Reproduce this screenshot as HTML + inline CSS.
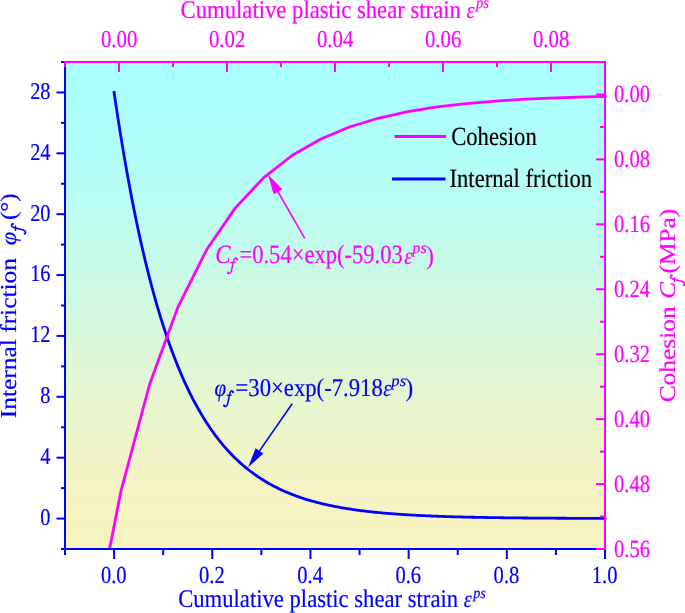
<!DOCTYPE html>
<html><head><meta charset="utf-8"><style>
html,body{margin:0;padding:0;background:#fff;overflow:hidden;}
svg{display:block;will-change:transform;}
text{font-family:"Liberation Serif", serif;stroke-width:0.2px;text-rendering:geometricPrecision;}
</style></head><body>
<svg width="685" height="613" viewBox="0 0 685 613">
<defs>
<linearGradient id="g" x1="0" y1="0" x2="0" y2="1">
<stop offset="0.000" stop-color="rgb(170,255,255)"/><stop offset="0.050" stop-color="rgb(171,255,255)"/><stop offset="0.100" stop-color="rgb(172,255,253)"/><stop offset="0.150" stop-color="rgb(175,254,251)"/><stop offset="0.200" stop-color="rgb(178,254,249)"/><stop offset="0.250" stop-color="rgb(182,253,245)"/><stop offset="0.300" stop-color="rgb(187,252,242)"/><stop offset="0.350" stop-color="rgb(192,252,238)"/><stop offset="0.400" stop-color="rgb(197,251,233)"/><stop offset="0.450" stop-color="rgb(203,250,229)"/><stop offset="0.500" stop-color="rgb(209,249,224)"/><stop offset="0.550" stop-color="rgb(215,248,219)"/><stop offset="0.600" stop-color="rgb(221,247,215)"/><stop offset="0.650" stop-color="rgb(226,246,210)"/><stop offset="0.700" stop-color="rgb(231,246,206)"/><stop offset="0.750" stop-color="rgb(236,245,203)"/><stop offset="0.800" stop-color="rgb(240,244,199)"/><stop offset="0.850" stop-color="rgb(243,244,197)"/><stop offset="0.900" stop-color="rgb(246,243,195)"/><stop offset="0.950" stop-color="rgb(247,243,193)"/><stop offset="1.000" stop-color="rgb(248,243,193)"/>
</linearGradient>
<clipPath id="c"><rect x="65" y="22" width="542" height="527"/></clipPath>
<clipPath id="c2"><rect x="65" y="62" width="542" height="488"/></clipPath>
</defs>
<rect x="65" y="62" width="540" height="487" fill="url(#g)"/>
<polyline clip-path="url(#c)" points="114.09,92.44 115.73,103.57 117.37,114.42 119.02,124.98 120.66,135.27 122.30,145.28 123.94,155.04 125.58,164.54 127.23,173.79 128.87,182.80 130.51,191.58 132.15,200.12 133.79,208.44 135.43,216.55 137.08,224.44 138.72,232.13 140.36,239.61 142.00,246.90 143.64,254.00 145.29,260.92 146.93,267.65 148.57,274.21 150.21,280.59 151.85,286.81 153.49,292.87 155.14,298.77 156.78,304.51 158.42,310.11 160.06,315.55 161.70,320.86 163.35,326.03 164.99,331.06 166.63,335.96 168.27,340.73 169.91,345.38 171.56,349.90 173.20,354.31 174.84,358.60 176.48,362.78 178.12,366.86 179.76,370.82 181.41,374.68 183.05,378.44 184.69,382.10 186.33,385.67 187.97,389.14 189.62,392.53 191.26,395.82 192.90,399.03 194.54,402.15 196.18,405.19 197.82,408.16 199.47,411.04 201.11,413.85 202.75,416.59 204.39,419.25 206.03,421.85 207.68,424.38 209.32,426.84 210.96,429.23 212.60,431.57 214.24,433.84 215.88,436.06 217.53,438.21 219.17,440.31 220.81,442.36 222.45,444.35 224.09,446.29 225.74,448.18 227.38,450.02 229.02,451.81 230.66,453.55 232.30,455.25 233.94,456.91 235.59,458.52 237.23,460.09 238.87,461.61 240.51,463.10 242.15,464.55 243.80,465.96 245.44,467.34 247.08,468.68 248.72,469.98 250.36,471.25 252.01,472.49 253.65,473.69 255.29,474.86 256.93,476.01 258.57,477.12 260.21,478.20 261.86,479.26 263.50,480.28 265.14,481.28 266.78,482.26 268.42,483.21 270.07,484.13 271.71,485.03 273.35,485.91 274.99,486.76 276.63,487.59 278.27,488.40 279.92,489.19 281.56,489.96 283.20,490.70 284.84,491.43 286.48,492.14 288.13,492.83 289.77,493.50 291.41,494.16 293.05,494.80 294.69,495.42 296.33,496.02 297.98,496.61 299.62,497.19 301.26,497.74 302.90,498.29 304.54,498.82 306.19,499.33 307.83,499.84 309.47,500.33 311.11,500.80 312.75,501.27 314.39,501.72 316.04,502.16 317.68,502.59 319.32,503.01 320.96,503.41 322.60,503.81 324.25,504.19 325.89,504.57 327.53,504.93 329.17,505.29 330.81,505.64 332.46,505.98 334.10,506.30 335.74,506.62 337.38,506.94 339.02,507.24 340.66,507.54 342.31,507.82 343.95,508.11 345.59,508.38 347.23,508.64 348.87,508.90 350.52,509.16 352.16,509.40 353.80,509.64 355.44,509.87 357.08,510.10 358.72,510.32 360.37,510.54 362.01,510.75 363.65,510.95 365.29,511.15 366.93,511.34 368.58,511.53 370.22,511.72 371.86,511.90 373.50,512.07 375.14,512.24 376.78,512.40 378.43,512.57 380.07,512.72 381.71,512.88 383.35,513.02 384.99,513.17 386.64,513.31 388.28,513.45 389.92,513.58 391.56,513.71 393.20,513.84 394.84,513.96 396.49,514.08 398.13,514.20 399.77,514.31 401.41,514.42 403.05,514.53 404.70,514.64 406.34,514.74 407.98,514.84 409.62,514.94 411.26,515.03 412.91,515.12 414.55,515.21 416.19,515.30 417.83,515.39 419.47,515.47 421.11,515.55 422.76,515.63 424.40,515.71 426.04,515.78 427.68,515.85 429.32,515.92 430.97,515.99 432.61,516.06 434.25,516.13 435.89,516.19 437.53,516.25 439.17,516.31 440.82,516.37 442.46,516.43 444.10,516.48 445.74,516.54 447.38,516.59 449.03,516.64 450.67,516.69 452.31,516.74 453.95,516.79 455.59,516.84 457.23,516.88 458.88,516.92 460.52,516.97 462.16,517.01 463.80,517.05 465.44,517.09 467.09,517.13 468.73,517.16 470.37,517.20 472.01,517.24 473.65,517.27 475.29,517.31 476.94,517.34 478.58,517.37 480.22,517.40 481.86,517.43 483.50,517.46 485.15,517.49 486.79,517.52 488.43,517.55 490.07,517.57 491.71,517.60 493.36,517.62 495.00,517.65 496.64,517.67 498.28,517.69 499.92,517.72 501.56,517.74 503.21,517.76 504.85,517.78 506.49,517.80 508.13,517.82 509.77,517.84 511.42,517.86 513.06,517.88 514.70,517.90 516.34,517.91 517.98,517.93 519.62,517.95 521.27,517.96 522.91,517.98 524.55,517.99 526.19,518.01 527.83,518.02 529.48,518.04 531.12,518.05 532.76,518.06 534.40,518.08 536.04,518.09 537.68,518.10 539.33,518.11 540.97,518.13 542.61,518.14 544.25,518.15 545.89,518.16 547.54,518.17 549.18,518.18 550.82,518.19 552.46,518.20 554.10,518.21 555.74,518.22 557.39,518.23 559.03,518.24 560.67,518.25 562.31,518.25 563.95,518.26 565.60,518.27 567.24,518.28 568.88,518.28 570.52,518.29 572.16,518.30 573.81,518.31 575.45,518.31 577.09,518.32 578.73,518.33 580.37,518.33 582.01,518.34 583.66,518.34 585.30,518.35 586.94,518.35 588.58,518.36 590.22,518.37 591.87,518.37 593.51,518.38 595.15,518.38 596.79,518.39 598.43,518.39 600.07,518.39 601.72,518.40 603.36,518.40 605.00,518.41" fill="none" stroke="#0000FF" stroke-width="2.8" stroke-linejoin="round" stroke-linecap="square"/>
<polyline clip-path="url(#c2)" points="92.33,637.00 120.90,491.33 149.47,384.76 178.04,306.82 206.61,249.80 235.18,208.09 263.75,177.59 292.32,155.27 320.89,138.95 349.46,127.01 378.03,118.27 406.60,111.88 435.17,107.21 463.74,103.79 492.31,101.29 520.88,99.46 549.45,98.12 578.02,97.15 606.59,96.43" fill="none" stroke="#FF00FF" stroke-width="2.8" stroke-linejoin="round"/>
<line x1="65" y1="62" x2="65" y2="550" stroke="#0000FF" stroke-width="2"/>
<line x1="64" y1="549" x2="605" y2="549" stroke="#0000FF" stroke-width="2"/>
<line x1="61" y1="549.00" x2="65" y2="549.00" stroke="#0000FF" stroke-width="2"/>
<line x1="56.5" y1="518.56" x2="65" y2="518.56" stroke="#0000FF" stroke-width="2"/>
<line x1="61" y1="488.12" x2="65" y2="488.12" stroke="#0000FF" stroke-width="2"/>
<line x1="56.5" y1="457.69" x2="65" y2="457.69" stroke="#0000FF" stroke-width="2"/>
<line x1="61" y1="427.25" x2="65" y2="427.25" stroke="#0000FF" stroke-width="2"/>
<line x1="56.5" y1="396.81" x2="65" y2="396.81" stroke="#0000FF" stroke-width="2"/>
<line x1="61" y1="366.38" x2="65" y2="366.38" stroke="#0000FF" stroke-width="2"/>
<line x1="56.5" y1="335.94" x2="65" y2="335.94" stroke="#0000FF" stroke-width="2"/>
<line x1="61" y1="305.50" x2="65" y2="305.50" stroke="#0000FF" stroke-width="2"/>
<line x1="56.5" y1="275.06" x2="65" y2="275.06" stroke="#0000FF" stroke-width="2"/>
<line x1="61" y1="244.62" x2="65" y2="244.62" stroke="#0000FF" stroke-width="2"/>
<line x1="56.5" y1="214.19" x2="65" y2="214.19" stroke="#0000FF" stroke-width="2"/>
<line x1="61" y1="183.75" x2="65" y2="183.75" stroke="#0000FF" stroke-width="2"/>
<line x1="56.5" y1="153.31" x2="65" y2="153.31" stroke="#0000FF" stroke-width="2"/>
<line x1="61" y1="122.88" x2="65" y2="122.88" stroke="#0000FF" stroke-width="2"/>
<line x1="56.5" y1="92.44" x2="65" y2="92.44" stroke="#0000FF" stroke-width="2"/>
<line x1="61" y1="62.00" x2="65" y2="62.00" stroke="#0000FF" stroke-width="2"/>
<line x1="65.00" y1="549" x2="65.00" y2="555" stroke="#0000FF" stroke-width="2"/>
<line x1="114.09" y1="549" x2="114.09" y2="559" stroke="#0000FF" stroke-width="2"/>
<line x1="163.18" y1="549" x2="163.18" y2="555" stroke="#0000FF" stroke-width="2"/>
<line x1="212.27" y1="549" x2="212.27" y2="559" stroke="#0000FF" stroke-width="2"/>
<line x1="261.36" y1="549" x2="261.36" y2="555" stroke="#0000FF" stroke-width="2"/>
<line x1="310.45" y1="549" x2="310.45" y2="559" stroke="#0000FF" stroke-width="2"/>
<line x1="359.55" y1="549" x2="359.55" y2="555" stroke="#0000FF" stroke-width="2"/>
<line x1="408.64" y1="549" x2="408.64" y2="559" stroke="#0000FF" stroke-width="2"/>
<line x1="457.73" y1="549" x2="457.73" y2="555" stroke="#0000FF" stroke-width="2"/>
<line x1="506.82" y1="549" x2="506.82" y2="559" stroke="#0000FF" stroke-width="2"/>
<line x1="555.91" y1="549" x2="555.91" y2="555" stroke="#0000FF" stroke-width="2"/>
<line x1="605.00" y1="549" x2="605.00" y2="559" stroke="#0000FF" stroke-width="2"/>
<line x1="64" y1="62" x2="606" y2="62" stroke="#FF00FF" stroke-width="2"/>
<line x1="605" y1="62" x2="605" y2="550" stroke="#FF00FF" stroke-width="2"/>
<line x1="65.00" y1="62" x2="65.00" y2="67" stroke="#FF00FF" stroke-width="2"/>
<line x1="119.00" y1="62" x2="119.00" y2="72" stroke="#FF00FF" stroke-width="2"/>
<line x1="173.00" y1="62" x2="173.00" y2="67" stroke="#FF00FF" stroke-width="2"/>
<line x1="227.00" y1="62" x2="227.00" y2="72" stroke="#FF00FF" stroke-width="2"/>
<line x1="281.00" y1="62" x2="281.00" y2="67" stroke="#FF00FF" stroke-width="2"/>
<line x1="335.00" y1="62" x2="335.00" y2="72" stroke="#FF00FF" stroke-width="2"/>
<line x1="389.00" y1="62" x2="389.00" y2="67" stroke="#FF00FF" stroke-width="2"/>
<line x1="443.00" y1="62" x2="443.00" y2="72" stroke="#FF00FF" stroke-width="2"/>
<line x1="497.00" y1="62" x2="497.00" y2="67" stroke="#FF00FF" stroke-width="2"/>
<line x1="551.00" y1="62" x2="551.00" y2="72" stroke="#FF00FF" stroke-width="2"/>
<line x1="605.00" y1="62" x2="605.00" y2="67" stroke="#FF00FF" stroke-width="2"/>
<line x1="600" y1="62.00" x2="605" y2="62.00" stroke="#FF00FF" stroke-width="2"/>
<line x1="596" y1="94.47" x2="605" y2="94.47" stroke="#FF00FF" stroke-width="2"/>
<line x1="600" y1="126.93" x2="605" y2="126.93" stroke="#FF00FF" stroke-width="2"/>
<line x1="596" y1="159.40" x2="605" y2="159.40" stroke="#FF00FF" stroke-width="2"/>
<line x1="600" y1="191.87" x2="605" y2="191.87" stroke="#FF00FF" stroke-width="2"/>
<line x1="596" y1="224.33" x2="605" y2="224.33" stroke="#FF00FF" stroke-width="2"/>
<line x1="600" y1="256.80" x2="605" y2="256.80" stroke="#FF00FF" stroke-width="2"/>
<line x1="596" y1="289.27" x2="605" y2="289.27" stroke="#FF00FF" stroke-width="2"/>
<line x1="600" y1="321.73" x2="605" y2="321.73" stroke="#FF00FF" stroke-width="2"/>
<line x1="596" y1="354.20" x2="605" y2="354.20" stroke="#FF00FF" stroke-width="2"/>
<line x1="600" y1="386.67" x2="605" y2="386.67" stroke="#FF00FF" stroke-width="2"/>
<line x1="596" y1="419.13" x2="605" y2="419.13" stroke="#FF00FF" stroke-width="2"/>
<line x1="600" y1="451.60" x2="605" y2="451.60" stroke="#FF00FF" stroke-width="2"/>
<line x1="596" y1="484.07" x2="605" y2="484.07" stroke="#FF00FF" stroke-width="2"/>
<line x1="600" y1="516.53" x2="605" y2="516.53" stroke="#FF00FF" stroke-width="2"/>
<line x1="596" y1="549.00" x2="605" y2="549.00" stroke="#FF00FF" stroke-width="2"/>
<text transform="translate(50.49,524.87) scale(0.8466,1)" font-size="24.009" fill="#0000FF" stroke="#0000FF" text-anchor="end">0</text>
<text transform="translate(50.49,464.00) scale(0.8466,1)" font-size="24.009" fill="#0000FF" stroke="#0000FF" text-anchor="end">4</text>
<text transform="translate(50.49,403.12) scale(0.8466,1)" font-size="24.009" fill="#0000FF" stroke="#0000FF" text-anchor="end">8</text>
<text transform="translate(50.49,342.25) scale(0.8466,1)" font-size="24.009" fill="#0000FF" stroke="#0000FF" text-anchor="end">12</text>
<text transform="translate(50.49,281.37) scale(0.8466,1)" font-size="24.009" fill="#0000FF" stroke="#0000FF" text-anchor="end">16</text>
<text transform="translate(50.49,220.50) scale(0.8466,1)" font-size="24.009" fill="#0000FF" stroke="#0000FF" text-anchor="end">20</text>
<text transform="translate(50.49,159.62) scale(0.8466,1)" font-size="24.009" fill="#0000FF" stroke="#0000FF" text-anchor="end">24</text>
<text transform="translate(50.49,98.75) scale(0.8466,1)" font-size="24.009" fill="#0000FF" stroke="#0000FF" text-anchor="end">28</text>
<text transform="translate(113.73,583.26) scale(0.839,1)" font-size="24.504" fill="#0000FF" stroke="#0000FF" text-anchor="middle">0.0</text>
<text transform="translate(211.91,583.26) scale(0.839,1)" font-size="24.504" fill="#0000FF" stroke="#0000FF" text-anchor="middle">0.2</text>
<text transform="translate(310.10,583.26) scale(0.839,1)" font-size="24.504" fill="#0000FF" stroke="#0000FF" text-anchor="middle">0.4</text>
<text transform="translate(408.28,583.26) scale(0.839,1)" font-size="24.504" fill="#0000FF" stroke="#0000FF" text-anchor="middle">0.6</text>
<text transform="translate(506.46,583.26) scale(0.839,1)" font-size="24.504" fill="#0000FF" stroke="#0000FF" text-anchor="middle">0.8</text>
<text transform="translate(604.64,583.26) scale(0.839,1)" font-size="24.504" fill="#0000FF" stroke="#0000FF" text-anchor="middle">1.0</text>
<text transform="translate(119.12,46.50) scale(0.854,1)" font-size="24.359" fill="#FF00FF" stroke="#FF00FF" text-anchor="middle">0.00</text>
<text transform="translate(227.12,46.50) scale(0.854,1)" font-size="24.359" fill="#FF00FF" stroke="#FF00FF" text-anchor="middle">0.02</text>
<text transform="translate(335.12,46.50) scale(0.854,1)" font-size="24.359" fill="#FF00FF" stroke="#FF00FF" text-anchor="middle">0.04</text>
<text transform="translate(443.12,46.50) scale(0.854,1)" font-size="24.359" fill="#FF00FF" stroke="#FF00FF" text-anchor="middle">0.06</text>
<text transform="translate(551.12,46.50) scale(0.854,1)" font-size="24.359" fill="#FF00FF" stroke="#FF00FF" text-anchor="middle">0.08</text>
<text transform="translate(614.09,102.18) scale(0.8298,1)" font-size="24.746" fill="#FF00FF" stroke="#FF00FF" text-anchor="start">0.00</text>
<text transform="translate(614.09,167.11) scale(0.8298,1)" font-size="24.746" fill="#FF00FF" stroke="#FF00FF" text-anchor="start">0.08</text>
<text transform="translate(614.09,232.04) scale(0.8298,1)" font-size="24.746" fill="#FF00FF" stroke="#FF00FF" text-anchor="start">0.16</text>
<text transform="translate(614.09,296.98) scale(0.8298,1)" font-size="24.746" fill="#FF00FF" stroke="#FF00FF" text-anchor="start">0.24</text>
<text transform="translate(614.09,361.91) scale(0.8298,1)" font-size="24.746" fill="#FF00FF" stroke="#FF00FF" text-anchor="start">0.32</text>
<text transform="translate(614.09,426.84) scale(0.8298,1)" font-size="24.746" fill="#FF00FF" stroke="#FF00FF" text-anchor="start">0.40</text>
<text transform="translate(614.09,491.78) scale(0.8298,1)" font-size="24.746" fill="#FF00FF" stroke="#FF00FF" text-anchor="start">0.48</text>
<text transform="translate(614.09,556.71) scale(0.8298,1)" font-size="24.746" fill="#FF00FF" stroke="#FF00FF" text-anchor="start">0.56</text>
<text transform="translate(180.59,18.20) scale(0.8932,1)" font-size="25.4" fill="#FF00FF" stroke="#FF00FF">Cumulative plastic shear strain</text>
<text transform="translate(466.54,17.80) scale(0.8741,1)" font-size="23.5" fill="#FF00FF" stroke="#FF00FF" font-style="italic">ε</text>
<text transform="translate(476.04,7.60) scale(0.9153,1)" font-size="16.0" fill="#FF00FF" stroke="#FF00FF" stroke-width="0" font-style="italic">ps</text>
<text transform="translate(178.19,607.40) scale(0.8919,1)" font-size="25.4" fill="#0000FF" stroke="#0000FF">Cumulative plastic shear strain</text>
<text transform="translate(463.64,607.30) scale(0.8446,1)" font-size="24" fill="#0000FF" stroke="#0000FF" font-style="italic">ε</text>
<text transform="translate(473.22,597.60) scale(0.9166,1)" font-size="15.5" fill="#0000FF" stroke="#0000FF" stroke-width="0" font-style="italic">ps</text>
<text transform="translate(16.30,418.19) rotate(-90) scale(1.1146,1)" font-size="22.8" fill="#0000FF" stroke="#0000FF">Internal friction</text>
<text transform="translate(16.30,245.23) rotate(-90) scale(1.1111,1)" font-size="22" fill="#0000FF" stroke="#0000FF" font-style="italic">φ</text>
<g transform="rotate(-90)"><path d="M-223.81,12.80 C-223.92,11.45 -225.53,10.85 -226.68,12.20 C-227.37,13.10 -227.83,14.75 -228.18,16.40 L-229.44,21.80 C-230.01,24.20 -231.05,25.70 -232.54,25.55 C-233.35,25.48 -233.81,25.10 -233.81,24.65 M-230.13,15.50 L-226.22,15.50" fill="none" stroke="#0000FF" stroke-width="1.5" stroke-linecap="round"/><circle cx="-224.03" cy="12.80" r="0.98" fill="#0000FF"/><circle cx="-233.58" cy="24.65" r="0.98" fill="#0000FF"/></g>
<text transform="translate(16.30,220.03) rotate(-90) scale(1.1140,1)" font-size="22.5" fill="#0000FF" stroke="#0000FF">(°)</text>
<text transform="translate(675.00,402.32) rotate(-90) scale(1.1283,1)" font-size="22.5" fill="#FF00FF" stroke="#FF00FF">Cohesion</text>
<text transform="translate(675.00,298.68) rotate(-90) scale(1.1183,1)" font-size="22.5" fill="#FF00FF" stroke="#FF00FF" font-style="italic">C</text>
<g transform="rotate(-90)"><path d="M-275.31,671.80 C-275.42,670.45 -277.03,669.85 -278.18,671.20 C-278.87,672.10 -279.33,673.75 -279.68,675.40 L-280.94,680.80 C-281.51,683.20 -282.55,684.70 -284.05,684.55 C-284.85,684.48 -285.31,684.10 -285.31,683.65 M-281.63,674.50 L-277.72,674.50" fill="none" stroke="#FF00FF" stroke-width="1.5" stroke-linecap="round"/><circle cx="-275.54" cy="671.80" r="0.98" fill="#FF00FF"/><circle cx="-285.08" cy="683.65" r="0.98" fill="#FF00FF"/></g>
<text transform="translate(675.00,273.44) rotate(-90) scale(1.1257,1)" font-size="22.5" fill="#FF00FF" stroke="#FF00FF">(MPa)</text>
<line x1="394.5" y1="136.6" x2="446" y2="136.6" stroke="#FF00FF" stroke-width="3"/>
<line x1="392" y1="179" x2="445.5" y2="179" stroke="#0000FF" stroke-width="3"/>
<text transform="translate(451.19,145.10) scale(0.8627,1)" font-size="26.25" fill="#000000" stroke="#000000">Cohesion</text>
<text transform="translate(449.51,187.20) scale(0.8615,1)" font-size="26.25" fill="#000000" stroke="#000000">Internal friction</text>
<text transform="translate(215.23,263.30) scale(0.8770,1)" font-size="26.3" fill="#FF00FF" stroke="#FF00FF" font-style="italic">C</text>
<g><path d="M237.23,259.48 C237.12,258.00 235.58,257.33 234.48,258.82 C233.82,259.81 233.38,261.62 233.05,263.44 L231.84,269.38 C231.29,272.02 230.30,273.67 228.87,273.50 C228.10,273.42 227.66,273.01 227.66,272.51 M231.18,262.45 L234.92,262.45" fill="none" stroke="#FF00FF" stroke-width="1.5" stroke-linecap="round"/><circle cx="237.01" cy="259.48" r="0.98" fill="#FF00FF"/><circle cx="227.88" cy="272.51" r="0.98" fill="#FF00FF"/></g>
<text transform="translate(239.47,263.30) scale(0.8581,1)" font-size="26.3" fill="#FF00FF" stroke="#FF00FF">=0.54×exp(-59.03</text>
<text transform="translate(404.24,263.50) scale(0.8446,1)" font-size="24" fill="#FF00FF" stroke="#FF00FF" font-style="italic">ε</text>
<text transform="translate(412.34,253.30) scale(1.0178,1)" font-size="16" fill="#FF00FF" stroke="#FF00FF" stroke-width="0" font-style="italic">ps</text>
<text transform="translate(426.26,263.80) scale(0.8813,1)" font-size="26" fill="#FF00FF" stroke="#FF00FF">)</text>
<text transform="translate(214.47,396.00) scale(0.8646,1)" font-size="24.3" fill="#0000FF" stroke="#0000FF" font-style="italic">φ</text>
<g><path d="M233.25,392.30 C233.14,390.80 231.65,390.13 230.58,391.64 C229.93,392.64 229.51,394.48 229.19,396.31 L228.01,402.32 C227.47,405.00 226.51,406.67 225.12,406.50 C224.37,406.42 223.94,406.00 223.94,405.50 M227.37,395.31 L231.00,395.31" fill="none" stroke="#0000FF" stroke-width="1.5" stroke-linecap="round"/><circle cx="233.04" cy="392.30" r="0.98" fill="#0000FF"/><circle cx="224.16" cy="405.50" r="0.98" fill="#0000FF"/></g>
<text transform="translate(235.57,396.00) scale(0.8862,1)" font-size="25.6" fill="#0000FF" stroke="#0000FF">=30×exp(-7.918</text>
<text transform="translate(383.26,396.00) scale(0.8396,1)" font-size="23.5" fill="#0000FF" stroke="#0000FF" font-style="italic">ε</text>
<text transform="translate(391.36,385.50) scale(1.0383,1)" font-size="16" fill="#0000FF" stroke="#0000FF" stroke-width="0" font-style="italic">ps</text>
<text transform="translate(405.56,396.00) scale(0.8985,1)" font-size="25.5" fill="#0000FF" stroke="#0000FF">)</text>
<line x1="304.8" y1="238.3" x2="277.98" y2="191.73" stroke="#FF00FF" stroke-width="1.6"/>
<polygon points="268.0,174.4 282.31,189.24 273.65,194.23" fill="#FF00FF"/>
<line x1="292.2" y1="403.7" x2="259.50" y2="450.86" stroke="#0000FF" stroke-width="1.6"/>
<polygon points="248.1,467.3 255.59,448.16 263.40,453.57" fill="#0000FF"/>
<circle cx="609.8" cy="95.2" r="0.6" fill="#c8c8c8"/>
<circle cx="653.6" cy="95.2" r="0.6" fill="#c8c8c8"/>
<circle cx="658.9" cy="95.2" r="0.6" fill="#c8c8c8"/>
</svg>
</body></html>
